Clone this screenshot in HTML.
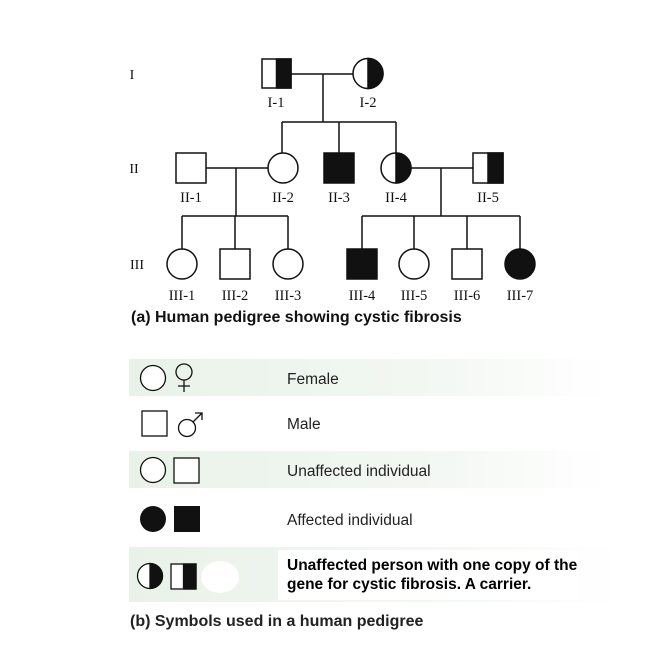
<!DOCTYPE html>
<html><head><meta charset="utf-8"><style>
html,body{margin:0;padding:0;background:#fff;}
svg{display:block;font-family:"Liberation Serif",serif;}
.s{font-family:"Liberation Sans",sans-serif;}
</style></head><body>
<svg width="668" height="666" viewBox="0 0 668 666" xmlns="http://www.w3.org/2000/svg">
<defs>
<linearGradient id="g" x1="0" x2="1" y1="0" y2="0">
<stop offset="0" stop-color="#e9f2e9"/><stop offset="0.6" stop-color="#f2f7f2"/><stop offset="1" stop-color="#ffffff"/>
</linearGradient>
</defs>
<g fill="#111" font-size="14" text-anchor="middle">
<text x="132" y="79">I</text><text x="134" y="173">II</text><text x="137" y="269">III</text>
</g>
<g stroke="#111" stroke-width="1.5" fill="none">
<path d="M291 74H353M323 74V122M282 122H396M282 122V153M339 122V153M396 122V153"/>
<path d="M206 168H268M236 168V216M182 216H288M182 216V249M235 216V249M288 216V249"/>
<path d="M411 168H473M441 168V216M362 216H520M362 216V249M414 216V249M467 216V249M520 216V249"/>
</g>
<g stroke="#111" stroke-width="1.5">
<rect x="262" y="59" width="29" height="29" fill="#fff"/><rect x="276.5" y="59" width="14.5" height="29" fill="#111"/>
<circle cx="368" cy="73.5" r="15" fill="#fff"/><path d="M368 58.5A15 15 0 0 1 368 88.5Z" fill="#111"/>
<rect x="176" y="153" width="30" height="30" fill="#fff"/>
<circle cx="283" cy="168" r="15" fill="#fff"/>
<rect x="324" y="153" width="30" height="30" fill="#111"/>
<circle cx="396" cy="168" r="15" fill="#fff"/><path d="M396 153A15 15 0 0 1 396 183Z" fill="#111"/>
<rect x="473" y="153" width="30" height="30" fill="#fff"/><rect x="488" y="153" width="15" height="30" fill="#111"/>
<circle cx="182" cy="264" r="15" fill="#fff"/>
<rect x="220" y="249" width="30" height="30" fill="#fff"/>
<circle cx="288" cy="264" r="15" fill="#fff"/>
<rect x="347" y="249" width="30" height="30" fill="#111"/>
<circle cx="414" cy="264" r="15" fill="#fff"/>
<rect x="452" y="249" width="30" height="30" fill="#fff"/>
<circle cx="520" cy="264" r="15" fill="#111"/>
</g>
<g fill="#111" font-size="14.5" text-anchor="middle">
<text x="276" y="107">I-1</text><text x="368" y="107">I-2</text>
<text x="191" y="202">II-1</text><text x="283" y="202">II-2</text><text x="339" y="202">II-3</text><text x="396" y="202">II-4</text><text x="488" y="202">II-5</text>
<text x="182" y="300">III-1</text><text x="235" y="300">III-2</text><text x="288" y="300">III-3</text>
<text x="362" y="300">III-4</text><text x="414" y="300">III-5</text><text x="467" y="300">III-6</text><text x="520" y="300">III-7</text>
</g>
<text class="s" x="131" y="322" font-size="16" font-weight="bold" fill="#111">(a) Human pedigree showing cystic fibrosis</text>

<rect x="129" y="359" width="480" height="37" fill="url(#g)"/>
<rect x="129" y="451" width="480" height="37" fill="url(#g)"/>
<rect x="129" y="547" width="490" height="55" fill="url(#g)"/>
<rect x="278" y="550" width="300" height="50" fill="#fff"/>
<ellipse cx="220" cy="577" rx="19" ry="16" fill="#fff"/>
<g stroke="#111" stroke-width="1.3" fill="none">
<circle cx="153" cy="378" r="12.5" fill="#fff"/>
<circle cx="184" cy="372" r="8"/><path d="M184 380V392M178 386H190"/>
<rect x="142" y="411" width="25" height="25" fill="#fff"/>
<circle cx="187" cy="428" r="8.5"/><path d="M193 422L202 413M195 413H202V420"/>
<circle cx="153" cy="470" r="12.5" fill="#fff"/>
<rect x="174" y="458" width="25" height="25" fill="#fff"/>
</g>
<circle cx="153" cy="519" r="13" fill="#111"/>
<rect x="174" y="506" width="26" height="26" fill="#111"/>
<g stroke="#111" stroke-width="1.3">
<circle cx="150" cy="576" r="12.5" fill="#fff"/><path d="M150 563.5A12.5 12.5 0 0 1 150 588.5Z" fill="#111"/>
<rect x="171" y="564" width="25" height="25" fill="#fff"/><rect x="183.5" y="564" width="12.5" height="25" fill="#111"/>
</g>
<g class="s" fill="#222" font-size="15.5">
<text x="287" y="384">Female</text>
<text x="287" y="429">Male</text>
<text x="287" y="476">Unaffected individual</text>
<text x="287" y="525">Affected individual</text>
</g>
<g class="s" fill="#000" font-size="15.5" font-weight="bold">
<text x="287" y="570">Unaffected person with one copy of the</text>
<text x="287" y="589">gene for cystic fibrosis. A carrier.</text>
</g>
<text class="s" x="130" y="626" font-size="16" font-weight="bold" fill="#222">(b) Symbols used in a human pedigree</text>
</svg>
</body></html>
